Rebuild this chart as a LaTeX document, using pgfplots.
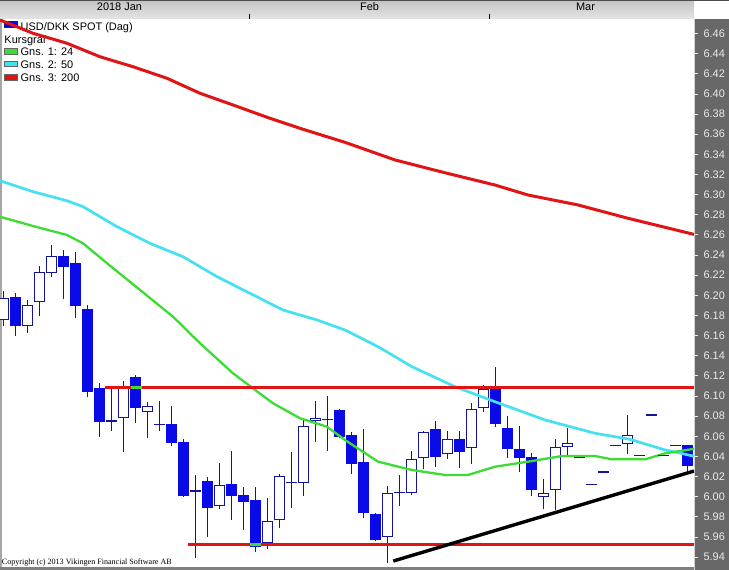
\documentclass[border=0pt]{standalone}
\usepackage{fontspec}
\setmainfont{Liberation Sans}
\newfontfamily\cpfont{Liberation Serif}
\usepackage{pgfplots}
\usepackage{pgfplotstable}
\pgfplotsset{compat=1.18}

\definecolor{cblue}{RGB}{10,10,230}
\definecolor{cnavy}{RGB}{20,20,150}
\definecolor{magreen}{RGB}{60,220,50}
\definecolor{macyan}{RGB}{70,225,240}
\definecolor{mared}{RGB}{225,20,20}
\definecolor{panel}{RGB}{104,104,104}
\definecolor{hdtop}{RGB}{196,196,196}
\definecolor{hdbot}{RGB}{228,228,228}
\definecolor{ticktxt}{RGB}{235,235,235}

% USD/DKK daily candles: index, open, high, low, close
\pgfplotstableread{
i o h l c
0 6.1755 6.2040 6.1700 6.1970
2 6.1700 6.1950 6.1630 6.1900
3 6.1930 6.2290 6.1790 6.2230
4 6.2225 6.2500 6.2185 6.2390
10 6.0779 6.1149 6.0447 6.1092
12 6.0838 6.0937 6.0580 6.0904
18 5.9910 6.0330 5.9880 6.0113
22 5.9543 5.9987 5.9478 5.9756
23 5.9766 6.0228 5.9686 6.0203
25 6.0133 6.0779 6.0010 6.0702
26 6.0749 6.0950 6.0546 6.0779
32 5.9603 6.0106 5.9345 6.0034
34 6.0034 6.0457 6.0017 6.0374
35 6.0381 6.0655 6.0272 6.0643
37 6.0421 6.0655 6.0374 6.0573
39 6.0487 6.0933 6.0322 6.0868
40 6.0884 6.1110 6.0838 6.1070
45 5.9994 6.0176 5.9875 6.0040
46 6.0067 6.0570 5.9868 6.0497
47 6.0497 6.0680 6.0397 6.0530
52 6.0523 6.0811 6.0424 6.0613
}\up

\pgfplotstableread{
i o h l c
1 6.1986 6.2026 6.1599 6.1698
5 6.2390 6.2450 6.1960 6.2280
6 6.2320 6.2430 6.1770 6.1890
7 6.1860 6.1900 6.0987 6.1040
8 6.1080 6.1126 6.0596 6.0745
11 6.1190 6.1210 6.0735 6.0880
14 6.0722 6.0900 6.0506 6.0536
15 6.0543 6.0570 6.0000 6.0010
17 6.0156 6.0200 5.9600 5.9890
19 6.0126 6.0450 5.9770 6.0010
20 6.0017 6.0093 5.9670 5.9950
21 5.9967 6.0093 5.9454 5.9500
28 6.0860 6.0870 6.0580 6.0596
29 6.0613 6.0640 6.0225 6.0325
30 6.0348 6.0672 5.9785 5.9841
31 5.9828 5.9840 5.9560 5.9570
36 6.0672 6.0752 6.0298 6.0397
38 6.0573 6.0655 6.0282 6.0447
41 6.1076 6.1285 6.0695 6.0719
42 6.0679 6.0801 6.0387 6.0471
43 6.0471 6.0702 6.0242 6.0387
44 6.0397 6.0431 6.0007 6.0067
57 6.0513 6.0513 6.0248 6.0305
}\down

\pgfplotstableread{
i v h l
9 6.0752 6.1092 6.0655
13 6.0720 6.0950 6.0655
16 6.0057 6.0215 5.9394
24 6.0143 6.0447 5.9885
27 6.0765 6.1000 6.0457
33 6.0040 6.0216 5.9910
48 6.0391 6.0391 6.0391
49 6.0123 6.0123 6.0123
50 6.0245 6.0245 6.0245
51 6.0506 6.0506 6.0506
53 6.0407 6.0407 6.0407
54 6.0811 6.0811 6.0811
55 6.0407 6.0407 6.0407
56 6.0506 6.0506 6.0506
}\doji

\begin{document}
\begin{tikzpicture}[x=1bp,y=1bp]
\useasboundingbox (0,-3) rectangle (729,567);
\fill[white] (0,-3) rectangle (729,567);
% right price panel and header band
\fill[panel] (694,-3) rectangle (729,548);
\draw[gray!35, line width=1bp] (694.5,-3) -- (694.5,548);
\shade[top color=hdtop, bottom color=hdbot] (0,548) rectangle (694,567);
\draw[gray!60!black, line width=1bp] (0,566.5) -- (729,566.5);
\draw[black, line width=0.8bp] (249.3,548) -- (249.3,553) (489,548) -- (489,553);
\fill[gray] (0,-3) rectangle (694,0);
\fill[gray!70] (0,0) rectangle (1.5,548);

\begin{scope}[font=\fontsize{11}{13}\selectfont]
\node[anchor=base, inner sep=0] at (119.5,556.5) {2018 Jan};
\node[anchor=base, inner sep=0] at (369.5,556.5) {Feb};
\node[anchor=base, inner sep=0] at (585.5,556.5) {Mar};
% legend
\fill[cblue, draw=cnavy] (4,540) rectangle (17,546);
\node[anchor=base west, inner sep=0] at (20.5,536.3) {USD/DKK SPOT (Dag)};
\node[anchor=base west, inner sep=0] at (4.3,523.7) {Kursgraf};
\fill[magreen, draw=black!60] (4,513) rectangle (16.7,518.7);
\node[anchor=base west, inner sep=0] at (20.5,511) {Gns. 1: 24};
\fill[macyan, draw=black!60] (4,500.3) rectangle (16.7,506);
\node[anchor=base west, inner sep=0] at (20.5,498) {Gns. 2: 50};
\fill[mared, draw=black!60] (4,487) rectangle (16.7,493);
\node[anchor=base west, inner sep=0] at (20.5,485.3) {Gns. 3: 200};
\end{scope}

\begin{axis}[
  at={(0,0)}, anchor=south west,
  scale only axis, width=694bp, height=548bp,
  xmin=-0.2917, xmax=57.5417,
  ymin=5.9302, ymax=6.4744,
  hide x axis,
  axis y line*=right,
  y axis line style={draw=none},
  ytick={5.94,5.96,5.98,6.00,6.02,6.04,6.06,6.08,6.10,6.12,6.14,6.16,6.18,6.20,6.22,6.24,6.26,6.28,6.30,6.32,6.34,6.36,6.38,6.40,6.42,6.44,6.46},
  tick align=outside,
  major tick length=4bp,
  tick style={ticktxt, line width=0.8bp},
  yticklabel style={font=\fontsize{11}{13}\selectfont, text=ticktxt, xshift=2bp},
  /pgf/number format/.cd, fixed, fixed zerofill, precision=2, assume math mode=true,
]
% wicks
\addplot[draw=none, mark=none, error bars/.cd, y dir=plus, y explicit, error mark=none,
  error bar style={line width=1.2bp, draw=cnavy}]
  table[x=i, y=l, y error plus expr=\thisrow{h}-\thisrow{l}] {\up};
\addplot[draw=none, mark=none, error bars/.cd, y dir=plus, y explicit, error mark=none,
  error bar style={line width=1.2bp, draw=cnavy}]
  table[x=i, y=l, y error plus expr=\thisrow{h}-\thisrow{l}] {\down};
\addplot[draw=none, mark=none, error bars/.cd, y dir=plus, y explicit, error mark=none,
  error bar style={line width=1.2bp, draw=cnavy}]
  table[x=i, y=l, y error plus expr=\thisrow{h}-\thisrow{l}] {\doji};
% bodies
\addplot[draw=none, mark=none, error bars/.cd, y dir=plus, y explicit, error mark=none,
  error bar style={line width=11bp, draw=cblue}]
  table[x=i, y=c, y error plus expr=\thisrow{o}-\thisrow{c}] {\down};
\addplot[draw=none, mark=none, error bars/.cd, y dir=plus, y explicit, error mark=none,
  error bar style={line width=11bp, draw=cnavy}]
  table[x=i, y=o, y error plus expr=\thisrow{c}-\thisrow{o}] {\up};
\addplot[draw=none, mark=none, error bars/.cd, y dir=plus, y explicit, error mark=none,
  error bar style={line width=9bp, draw=white}]
  table[x=i, y expr=\thisrow{o}+0.001, y error plus expr=\thisrow{c}-\thisrow{o}-0.002] {\up};
\addplot[only marks, mark=-, mark size=5.5bp, mark options={line width=1.2bp, draw=cnavy}]
  table[x=i, y=v] {\doji};

% moving averages
\addplot[mared, line width=3bp] coordinates {
(-0.29,6.4734)(2.46,6.4602)(5.29,6.4503)(8.04,6.4369)(10.79,6.4270)(13.63,6.4155)
(16.38,6.4006)(19.13,6.3890)(21.96,6.3768)(24.71,6.3658)(28.46,6.3519)(32.63,6.3344)
(36.79,6.3217)(40.96,6.3095)(43.71,6.2996)(47.88,6.2897)(52.04,6.2765)(57.54,6.2605)};
\addplot[macyan, line width=2.7bp] coordinates {
(-0.29,6.3138)(2.46,6.3029)(5.29,6.2939)(6.63,6.2880)(9.46,6.2681)(12.21,6.2516)
(14.96,6.2383)(17.79,6.2185)(20.54,6.2020)(23.29,6.1854)(26.13,6.1755)(28.46,6.1655)
(31.21,6.1490)(34.04,6.1291)(37.63,6.1092)(40.96,6.0943)(45.13,6.0762)(49.29,6.0630)
(52.21,6.0570)(54.96,6.0470)(57.54,6.0402)};
\addplot[magreen, line width=2.3bp] coordinates {
(-0.29,6.2780)(2.46,6.2688)(5.29,6.2599)(6.63,6.2516)(8.63,6.2318)(11.38,6.2053)
(14.13,6.1787)(16.38,6.1523)(19.13,6.1225)(20.79,6.1076)(22.46,6.0928)(24.71,6.0779)
(26.96,6.0695)(28.46,6.0563)(31.21,6.0348)(34.04,6.0265)(36.79,6.0216)(38.71,6.0216)
(40.96,6.0298)(43.71,6.0348)(46.54,6.0404)(49.29,6.0404)(50.71,6.0371)(53.46,6.0371)
(55.13,6.0431)(57.54,6.0475)};

% resistance, support and trend lines
\addplot[mared, line width=3.6bp] coordinates {(8.46,6.1086)(57.54,6.1086)};
\addplot[mared, line width=3.6bp] coordinates {(15.40,5.9527)(57.54,5.9527)};
\addplot[magreen, line width=3.6bp] coordinates {(10.60,6.1086)(11.50,6.1086)};
\addplot[magreen, line width=3.6bp] coordinates {(20.55,5.9527)(21.46,5.9527)};
\addplot[black, line width=3.4bp] coordinates {(32.48,5.9361)(57.54,6.0255)};
\end{axis}

\node[anchor=base west, inner sep=0, font=\cpfont\fontsize{8.1}{9}\selectfont] at (1.7,2) {Copyright (c) 2013 Vikingen Financial Software AB};
\end{tikzpicture}
\end{document}
